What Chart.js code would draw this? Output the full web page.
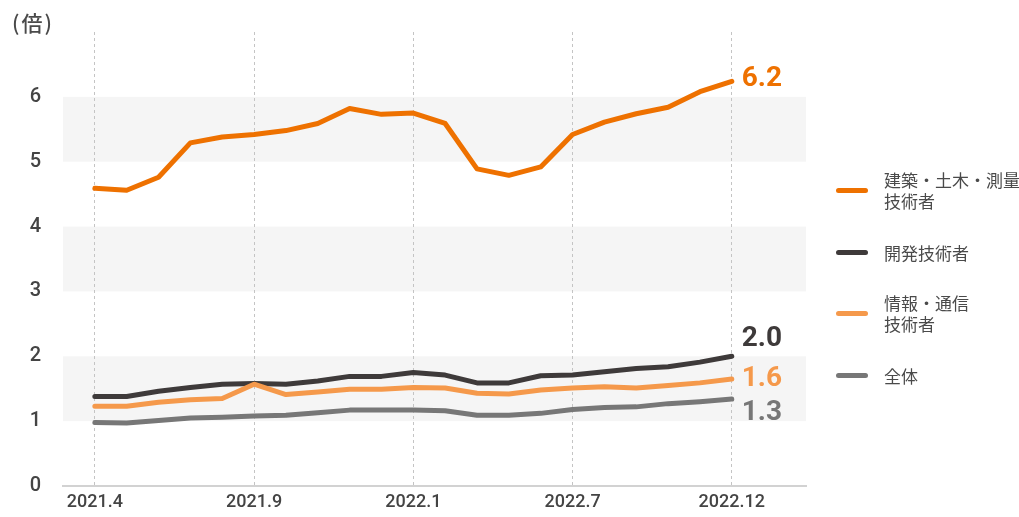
<!DOCTYPE html>
<html lang="ja">
<head>
<meta charset="utf-8">
<script src="https://cdn.jsdelivr.net/npm/chart.js@4"></script>
<style>
  html, body { margin:0; padding:0; background:#fff; }
  #wrap { position:relative; width:1019px; height:517px; font-family: Roboto, "Noto Sans CJK JP", sans-serif; color:#4a4a4a; }
  canvas { position:absolute; left:0; top:0; }
  #unit { position:absolute; left:12px; top:7px; font-size:21px; line-height:30px; letter-spacing:2px; font-weight:500; font-family:"Noto Sans CJK JP", sans-serif; color:#4a4a4a; }
  .lg { position:absolute; left:836px; font-family:"Noto Sans CJK JP", sans-serif; font-size:17px; line-height:21px; color:#4a4a4a; }
  .lg .mk { position:absolute; left:0; width:32px; height:5px; border-radius:3px; }
  .lg .tx { position:absolute; left:48px; white-space:nowrap; }
</style>
</head>
<body>
<div id="wrap">
  <canvas id="c" width="1019" height="517"></canvas>
  <div id="unit">(倍)</div>
  <div id="legend"></div>
</div>
<script>
const xLabels = ['2021.4','','','','','2021.9','','','','','2022.1','','','','','2022.7','','','','','2022.12'];
const tickIndex = [0,5,10,15,20];
const seriesNames = ['建築・土木・測量\n技術者','情報・通信\n技術者','開発技術者','全体'];
const construction = [4.59,4.56,4.76,5.29,5.38,5.42,5.48,5.59,5.82,5.73,5.75,5.59,4.89,4.79,4.92,5.42,5.61,5.74,5.84,6.08,6.24];
const itComm      = [1.23,1.23,1.29,1.33,1.35,1.57,1.41,1.45,1.49,1.49,1.52,1.51,1.43,1.42,1.48,1.51,1.53,1.51,1.55,1.59,1.65];
const development = [1.38,1.38,1.46,1.52,1.57,1.58,1.57,1.62,1.69,1.69,1.75,1.71,1.59,1.59,1.70,1.71,1.76,1.81,1.84,1.91,2.00];
const overall     = [0.98,0.97,1.01,1.05,1.06,1.08,1.09,1.13,1.17,1.17,1.17,1.16,1.09,1.09,1.12,1.18,1.21,1.22,1.27,1.30,1.34];
const endLabels = ['6.2','1.6','2.0','1.3'];
const yTicks = [0,1,2,3,4,5,6];

const colors = ['#ee7100','#f5994b','#3e3a3a','#777777'];
const labelOffsetY = [-2, 0, -17, 14];
const bands = [[1,2],[3,4],[5,6]];
const seriesValues = [construction, itComm, development, overall];

const toPoints = arr => arr.map((v,i) => ({x:i, y:v}));

const bandPlugin = {
  id:'bands',
  beforeDraw(chart){
    const {ctx, chartArea, scales:{y}} = chart;
    ctx.save();
    ctx.fillStyle = '#f5f5f5';
    bands.forEach(([a,b]) => {
      const y1 = y.getPixelForValue(b), y2 = y.getPixelForValue(a);
      ctx.fillRect(chartArea.left, y1, chartArea.right - chartArea.left, y2 - y1);
    });
    ctx.restore();
  }
};

const endLabelPlugin = {
  id:'endLabels',
  afterDatasetsDraw(chart){
    const ctx = chart.ctx;
    ctx.save();
    ctx.font = 'bold 28px Roboto, "DejaVu Sans", sans-serif';
    ctx.textAlign = 'left';
    ctx.textBaseline = 'middle';
    chart.data.datasets.forEach((ds, i) => {
      const meta = chart.getDatasetMeta(i);
      const pt = meta.data[meta.data.length-1];
      ctx.fillStyle = colors[i];
      ctx.fillText(endLabels[i], pt.x + 10, pt.y + labelOffsetY[i]);
    });
    ctx.restore();
  }
};

new Chart(document.getElementById('c'), {
  type:'line',
  data:{
    datasets: seriesValues.map((vals,i) => ({
      label: seriesNames[i],
      data: toPoints(vals),
      borderColor: colors[i],
      backgroundColor: colors[i],
      borderWidth: 5,
      pointRadius: 0,
      tension: 0,
      borderJoinStyle:'round',
      borderCapStyle:'round',
      fill:false
    }))
  },
  options:{
    responsive:false,
    animation:false,
    layout:{ padding:{ top:32, right:213, left:0, bottom:0 } },
    plugins:{ legend:{display:false}, tooltip:{enabled:false} },
    scales:{
      x:{
        type:'linear',
        min:-1, max:22.33,
        afterBuildTicks(scale){ scale.ticks = tickIndex.map(v => ({value:v})); },
        afterFit(scale){ scale.height = 31; },
        ticks:{
          callback:(v) => xLabels[v] ?? '',
          color:'#444', font:{ family:'Roboto', size:18, weight:'500' }, padding:6, maxRotation:0, autoSkip:false
        },
        grid:{ color:'#c4c4c4', lineWidth:1, drawTicks:false, tickLength:0 },
        border:{ display:true, color:'#d2d2d2', width:2, dash:[3,3] }
      },
      y:{
        min:0, max:7,
        afterBuildTicks(scale){ scale.ticks = yTicks.map(v => ({value:v})); },
        afterFit(scale){ scale.width = 63; },
        ticks:{ color:'#444', font:{ family:'Roboto', size:20, weight:'500' }, padding:14 },
        grid:{ display:false },
        border:{ display:false }
      }
    }
  },
  plugins:[bandPlugin, endLabelPlugin]
});

// HTML legend
const legendTop = [190, 252, 313, 375];
const legendOrder = [0, 2, 1, 3];
const lg = document.getElementById('legend');
legendOrder.forEach((di, k) => {
  const lines = seriesNames[di].split('\n');
  const d = document.createElement('div');
  d.className = 'lg';
  d.style.top = legendTop[k] + 'px';
  const mk = document.createElement('div');
  mk.className = 'mk'; mk.style.background = colors[di]; mk.style.top = '-2px';
  const tx = document.createElement('div');
  tx.className = 'tx';
  tx.style.top = (-(lines.length * 21) / 2) + 'px';
  tx.innerHTML = lines.join('<br>');
  d.appendChild(mk); d.appendChild(tx);
  lg.appendChild(d);
});
</script>
</body>
</html>
